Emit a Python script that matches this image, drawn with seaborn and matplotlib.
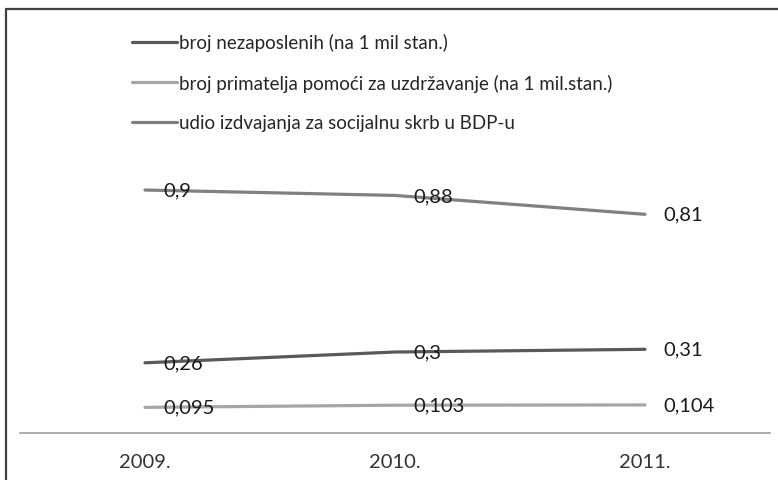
import matplotlib
matplotlib.use("Agg")
import matplotlib.pyplot as plt
import seaborn as sns
import pandas as pd
from matplotlib.lines import Line2D

# data
years = ["2009.", "2010.", "2011."]
nezaposleni = [0.26, 0.3, 0.31]
primatelji = [0.095, 0.103, 0.104]
udio_bdp = [0.9, 0.88, 0.81]
series_names = ["broj nezaposlenih (na 1 mil stan.)",
                "broj primatelja pomoći za uzdržavanje (na 1 mil.stan.)",
                "udio izdvajanja za socijalnu skrb u BDP-u"]
colours = ["#595959", "#a6a6a6", "#808080"]

df = pd.DataFrame({
    "godina": years * 3,
    "vrijednost": nezaposleni + primatelji + udio_bdp,
    "serija": [series_names[0]] * 3 + [series_names[1]] * 3 + [series_names[2]] * 3,
})

sns.set_style("white")
plt.rcParams["font.family"] = ["Lato", "DejaVu Sans"]

fig = plt.figure(figsize=(7.78, 4.81), dpi=100)
ax = fig.add_axes([20 / 778, 47 / 481, 750 / 778, 419 / 481])

sns.lineplot(data=df, x="godina", y="vrijednost", hue="serija", hue_order=series_names,
             palette=colours, linewidth=2.3, ax=ax, sort=False)

# data labels to the right of each point
for vals in [nezaposleni, primatelji, udio_bdp]:
    for i, v in enumerate(vals):
        ax.annotate(str(v).replace(".", ","), (i, v), xytext=(13, 0), textcoords="offset points",
                    va="center", ha="left", fontsize=14.5, color="#1a1a1a")

ax.set_xlim(-0.5, 2.5)
ax.set_ylim(0, 1.552)
ax.set_yticks([])
ax.set_xlabel("")
ax.set_ylabel("")
for side in ["top", "right", "left"]:
    ax.spines[side].set_visible(False)
ax.spines["bottom"].set_color("#a0a0a0")
ax.spines["bottom"].set_linewidth(1.2)
ax.tick_params(axis="x", length=0, pad=14.5, labelsize=14.5, colors="#333333")

ax.legend(loc="upper left", bbox_to_anchor=(132 / 778, 1 - 34 / 481), bbox_transform=fig.transFigure,
          frameon=False, fontsize=13.5, handlelength=2.4, handletextpad=0.1, labelspacing=1.2,
          borderpad=0, borderaxespad=0)
for t in ax.get_legend().get_texts():
    t.set_color("#262626")

# outer frame (left and top edge only, as in the reference)
fig.add_artist(Line2D([6.5 / 778, 6.5 / 778], [0, 1 - 9.5 / 481], transform=fig.transFigure,
                      color="#404040", linewidth=1.6))
fig.add_artist(Line2D([6.5 / 778, 1], [1 - 9.5 / 481, 1 - 9.5 / 481], transform=fig.transFigure,
                      color="#404040", linewidth=1.6))

fig.savefig("out.png", dpi=100)
